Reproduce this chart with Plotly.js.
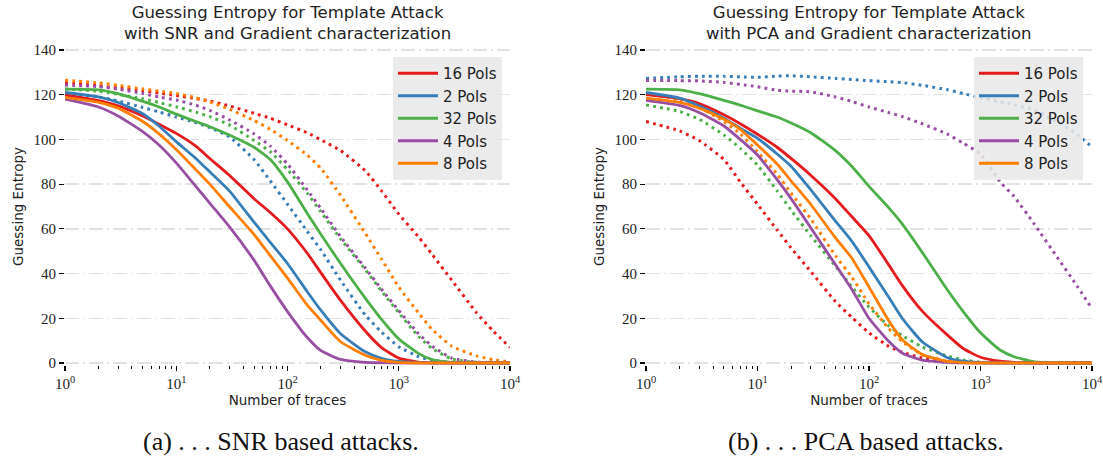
<!DOCTYPE html>
<html>
<head>
<meta charset="utf-8">
<script src="https://cdn.plot.ly/plotly-3.0.1.min.js"></script>
<style>
html,body{margin:0;padding:0;background:#fff;}
#chart{width:1103px;height:461px;}
</style>
</head>
<body>
<div id="chart"></div>
<script>
// Number of traces (x values, log axis)
const traces = [1,2,3,5,7,10,15,20,30,50,70,100,150,200,300,500,700,1000,1500,2000,3000,5000,7000,10000];

// (a) SNR based attacks - solid lines
const snr16 = [120,117.3,115,110.5,106.8,102.7,97,91.5,84,73.5,67.3,60,49.2,40.3,28,14.3,6.9,2.2,0.4,0.1,0,0,0,0];
const snr2  = [121,119,116.5,111.5,106,99,91.5,85.5,77,63,54,44.5,32,23.5,13.1,5,2.1,0.7,0.2,0,0,0,0,0];
const snr32 = [122.5,122.2,120.5,117,114.5,111.3,108,105.7,102,96.5,91,81,67,57.5,44.5,29,19.5,10.8,4.3,1.5,0.3,0,0,0];
const snr4  = [118,114.5,110.5,103.5,97.5,89.5,79,71.5,61,46,34.5,23,11.5,5.5,1.6,0.3,0.1,0,0,0,0,0,0,0];
const snr8  = [118.8,116.6,114,108,102.5,95.5,86.5,80,70,57.5,48,38,26,19,9.5,3.5,1.2,0.3,0,0,0,0,0,0];
// (a) SNR based attacks - dotted lines
const snr16dot = [125.5,124,123,121.8,120.7,119.6,118.3,117.2,115,111.7,109.5,106.5,103,99.8,95,86,77,66.6,56.5,48.5,37,22.5,14.5,7];
const snr2dot  = [120.5,119,117.2,114.3,112.3,110,107.5,105.3,101.2,91,81.5,71,59,50.5,37,21.5,13.8,7.3,2.9,1.2,0.3,0,0,0];
const snr32dot = [122.5,121.6,120.2,118.2,116.5,114.6,112.2,110.2,106.5,99.5,94.5,86.5,76,67.5,55.5,41.8,32.2,22.5,12,6.5,1.8,0.3,0.1,0];
const snr4dot  = [124.3,123.6,122.5,120.5,119,117.6,115.3,113,108.8,102.5,97,89,77.5,69,56.5,42.5,33,23.5,13.2,7.5,2.2,0.4,0.1,0];
const snr8dot  = [126.5,125.3,124.2,122.6,121.6,120.6,118.6,116.8,113.5,108.5,104.5,99.5,93,87,75,58,46.5,34,22.5,15,7.5,3.2,1.5,0.5];

// (b) PCA based attacks - solid lines
const pca16 = [120,118.2,116,111,107,102.3,96.5,91.5,84,73.5,65.5,57,44,34.5,23.2,12.7,6.5,2.6,0.8,0.3,0,0,0,0];
const pca2  = [121,118.5,115,109.5,105,100.5,93.5,88,77.5,63.5,54.5,43,29.5,19.8,9.5,2.5,0.8,0.2,0,0,0,0,0,0];
const pca32 = [122.5,122.2,120.5,117.5,115.3,112.8,110,107.3,103,95,88,79,69.5,62,49.5,33,23,13.5,5.8,2.8,0.6,0.1,0,0];
const pca4  = [117.5,115.2,112,106,100,93,82,73.5,60.5,44,33,20,9.7,4.4,1.3,0.3,0,0,0,0,0,0,0,0];
const pca8  = [118.5,116.6,114,109,104.5,97.5,89,81.5,71,56,47,34,19,10.3,3.8,0.7,0.2,0,0,0,0,0,0,0];
// (b) PCA based attacks - dotted lines
const pca16dot = [108,103.8,99.5,91,81,71,59.5,51.5,41,27.5,20.5,13.5,7.5,4.8,2.3,0.8,0.3,0.1,0,0,0,0,0,0];
const pca2dot  = [127.3,128,128.3,128.2,128,127.8,128.3,128.5,128,127.3,126.8,126.3,125.8,125.4,124.2,122.3,120.5,118.7,116.8,115.6,113.3,107.5,103,96.7];
const pca32dot = [115.4,112.5,109,102,96,88.5,77,68.4,57,43.3,34,25,16.6,12.2,7.2,3.2,1.4,0.4,0.1,0,0,0,0,0];
const pca4dot  = [126.3,126.3,126.2,125.5,124.6,123.6,122,121.6,121.3,119,117,114.5,112,110.2,107,102.5,98.3,93.5,81,74.5,62.5,46.5,36,24.3];
const pca8dot  = [120.5,117.7,114.3,108,102.5,94.5,84.5,76,64.5,48,38.5,26.5,15.5,9.5,3.8,0.8,0.2,0,0,0,0,0,0,0];

const seriesNames = ['16 Pols','2 Pols','32 Pols','4 Pols','8 Pols'];
const colors = ['#e41a1c','#377eb8','#4daf4a','#984ea3','#ff7f00'];
const snrSolid = [snr16, snr2, snr32, snr4, snr8];
const snrDot = [snr16dot, snr2dot, snr32dot, snr4dot, snr8dot];
const pcaSolid = [pca16, pca2, pca32, pca4, pca8];
const pcaDot = [pca16dot, pca2dot, pca32dot, pca4dot, pca8dot];

const xTickVals = [1,10,100,1000,10000];
const xTickText = ['10<sup>0</sup>','10<sup>1</sup>','10<sup>2</sup>','10<sup>3</sup>','10<sup>4</sup>'];
const minorVals = [2,3,4,5,6,7,8,9,20,30,40,50,60,70,80,90,200,300,400,500,600,700,800,900,2000,3000,4000,5000,6000,7000,8000,9000];
const yTickVals = [0,20,40,60,80,100,120,140];

const data = [];
function addPanel(solid, dotted, xa, ya, leg) {
  for (let i = 0; i < seriesNames.length; i++) {
    data.push({
      type: 'scatter', mode: 'lines', x: traces, y: dotted[i], xaxis: xa, yaxis: ya,
      showlegend: false, name: seriesNames[i] + ' (dotted)',
      line: {color: colors[i], width: 3, dash: '2.8px,4.2px', shape: 'spline', smoothing: 0.5}
    });
  }
  for (let i = 0; i < seriesNames.length; i++) {
    data.push({
      type: 'scatter', mode: 'lines', x: traces, y: solid[i], xaxis: xa, yaxis: ya,
      name: seriesNames[i], legend: leg, showlegend: true,
      line: {color: colors[i], width: 2.8, shape: 'spline', smoothing: 0.5}
    });
  }
}
addPanel(snrSolid, snrDot, 'x', 'y', 'legend');
addPanel(pcaSolid, pcaDot, 'x2', 'y2', 'legend2');

const tickFont = {family: 'Liberation Serif, DejaVu Serif, serif', size: 15, color: '#222'};
const sans = 'DejaVu Sans, sans-serif';

function xAxis(domain, anchor) {
  return {
    type: 'log', domain: domain, anchor: anchor, range: [0, 4],
    showline: false, zeroline: false, showgrid: false,
    tickmode: 'array', tickvals: xTickVals, ticktext: xTickText,
    ticks: 'outside', ticklen: 5, tickwidth: 1.2, tickcolor: '#000',
    tickfont: tickFont,
    minor: {tickmode: 'array', tickvals: minorVals, ticks: 'outside', ticklen: 3, tickwidth: 1, tickcolor: '#000', showgrid: false},
    title: {text: 'Number of traces', font: {family: sans, size: 13.5, color: '#222'}, standoff: 3},
    fixedrange: true
  };
}
function yAxis(domain, anchor) {
  return {
    domain: domain, anchor: anchor, range: [-0.8, 140.8],
    showline: false, zeroline: false,
    showgrid: true, gridcolor: '#e3e3e3', gridwidth: 1.5, griddash: '14px,4px,2px,4px',
    tickmode: 'array', tickvals: yTickVals,
    ticks: 'outside', ticklen: 5, tickwidth: 1.2, tickcolor: '#000',
    tickfont: tickFont,
    title: {text: 'Guessing Entropy', font: {family: sans, size: 13.5, color: '#222'}, standoff: 6},
    fixedrange: true
  };
}

const W = 1103, H = 461;
const yDom = [(H - 364.8) / H, (H - 48.2) / H];

const legendCommon = {xanchor: 'right', y: (H - 57) / H, yanchor: 'top',
  bgcolor: 'rgba(232,232,232,0.85)', borderwidth: 0, itemwidth: 40,
  font: {family: sans, size: 15, color: '#222'}, tracegroupgap: 0};

const layout = {
  width: W, height: H,
  margin: {l: 0, r: 0, t: 0, b: 0},
  paper_bgcolor: '#fff', plot_bgcolor: '#fff',
  xaxis: xAxis([65 / W, 510 / W], 'y'),
  yaxis: yAxis(yDom, 'x'),
  xaxis2: xAxis([646 / W, 1092 / W], 'y2'),
  yaxis2: yAxis(yDom, 'x2'),
  legend: Object.assign({x: 502 / W}, legendCommon),
  legend2: Object.assign({x: 1083 / W}, legendCommon),
  annotations: [
    {text: 'Guessing Entropy for Template Attack<br>with SNR and Gradient characterization',
     xref: 'paper', yref: 'paper', x: 287 / W, y: (H - 23) / H, xanchor: 'center', yanchor: 'middle',
     showarrow: false, font: {family: sans, size: 16.5, color: '#222'}},
    {text: 'Guessing Entropy for Template Attack<br>with PCA and Gradient characterization',
     xref: 'paper', yref: 'paper', x: 869 / W, y: (H - 23) / H, xanchor: 'center', yanchor: 'middle',
     showarrow: false, font: {family: sans, size: 16.5, color: '#222'}},
    {text: '(a) . . . SNR based attacks.',
     xref: 'paper', yref: 'paper', x: 281 / W, y: (H - 441) / H, xanchor: 'center', yanchor: 'middle',
     showarrow: false, font: {family: 'Liberation Serif, DejaVu Serif, serif', size: 26, color: '#111'}},
    {text: '(b) . . . PCA based attacks.',
     xref: 'paper', yref: 'paper', x: 866 / W, y: (H - 441) / H, xanchor: 'center', yanchor: 'middle',
     showarrow: false, font: {family: 'Liberation Serif, DejaVu Serif, serif', size: 26, color: '#111'}}
  ]
};

Plotly.newPlot('chart', data, layout, {staticPlot: true, displayModeBar: false});
</script>
</body>
</html>
